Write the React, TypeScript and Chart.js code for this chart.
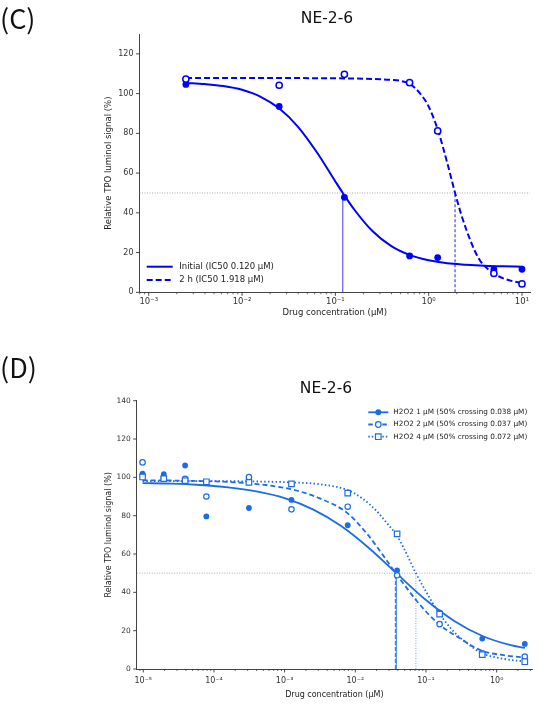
import React, { useEffect, useRef } from "react";
import { Chart, registerables } from "chart.js";

Chart.register(...registerables);

// ---------------- Panel C data ----------------
const cSeriesNames = ["Initial", "2 h"];
const cConc = [0.0025, 0.025, 0.125, 0.625, 1.25, 5, 10];
const cInitial = [104.6, 93.5, 47.8, 18.3, 17.5, 11.5, 11.6];
const c2h = [107.3, 104.2, 109.7, 105.5, 81.2, 9.5, 4.2];
const cIC50 = [0.12, 1.918];
// fitted curves (log10 concentration, signal)
const cFitInitialLog = [-2.6, -2.4, -2.2, -2.0, -1.8, -1.6, -1.4, -1.2, -1.0, -0.92, -0.8, -0.6, -0.4, -0.2, 0, 0.2, 0.4, 0.6, 0.8, 1.0];
const cFitInitialVal = [105.4, 104.8, 103.8, 101.9, 98.4, 92.5, 83.3, 70.6, 55.8, 50.0, 41.8, 30.7, 23.2, 18.7, 16.1, 14.6, 13.9, 13.4, 13.1, 12.9];
const cFit2hLog = [-2.6, -1.5, -1.0, -0.6, -0.4, -0.3, -0.2, -0.1, 0.0, 0.1, 0.2, 0.283, 0.35, 0.4, 0.45, 0.5, 0.55, 0.6, 0.7, 0.8, 0.9, 1.0];
const cFit2hVal = [107.8, 107.8, 107.7, 107.4, 106.9, 106.4, 104.8, 100.5, 93.5, 81.5, 65.0, 50.0, 39.0, 32.0, 25.8, 20.3, 16.0, 13.2, 9.4, 7.0, 5.6, 4.7];
const cXDecades = [-3, -2, -1, 0, 1];
const cXTickLabels = ["10⁻³", "10⁻²", "10⁻¹", "10⁰", "10¹"];
const cYTicks = [0, 20, 40, 60, 80, 100, 120];

// ---------------- Panel D data ----------------
const dSeriesNames = ["H2O2 1 µM", "H2O2 2 µM", "H2O2 4 µM"];
const dConc = [9.77e-6, 1.95e-5, 3.91e-5, 7.81e-5, 3.125e-4, 1.25e-3, 7.81e-3, 0.039, 0.156, 0.625, 2.5];
const dH1 = [101.9, 101.7, 106.2, 79.6, 84.0, 88.2, 75.0, 51.4, 29.5, 15.9, 13.1];
const dH2 = [107.8, 99.6, 99.2, 90.0, 100.1, 83.3, 84.7, 48.9, 23.4, 8.2, 6.5];
const dH4 = [100.2, 99.3, 98.3, 97.7, 97.4, 96.6, 91.8, 70.5, 28.6, 7.5, 3.8];
const dCross = [0.038, 0.037, 0.072];
const dFit1Log = [-5.01, -4.6, -4.2, -3.8, -3.4, -3.0, -2.6, -2.2, -1.8, -1.42, -1.0, -0.6, -0.2, 0.2, 0.4];
const dFit1Val = [97.0, 96.7, 96.0, 94.8, 92.7, 89.2, 83.3, 74.6, 62.9, 50.0, 36.0, 25.1, 17.2, 12.4, 11.0];
const dFit2Log = [-5.01, -4.5, -4.0, -3.5, -3.0, -2.8, -2.5, -2.12, -1.84, -1.56, -1.43, -1.37, -1.13, -0.83, -0.52, -0.21, 0.1, 0.4];
const dFit2Val = [98.5, 98.3, 97.9, 96.9, 94.5, 92.8, 89.0, 81.6, 70.8, 56.9, 50.0, 47.1, 35.5, 23.8, 16.0, 9.5, 7.2, 6.0];
const dFit3Log = [-5.01, -4.0, -3.5, -3.0, -2.5, -2.12, -1.9, -1.7, -1.55, -1.41, -1.3, -1.143, -0.99, -0.83, -0.63, -0.43, -0.21, 0.1, 0.4];
const dFit3Val = [98.0, 98.0, 97.9, 97.5, 96.4, 93.5, 89.0, 82.5, 76.0, 69.5, 62.0, 50.0, 39.8, 30.0, 20.4, 13.8, 8.3, 5.3, 3.9];
const dXDecades = [-5, -4, -3, -2, -1, 0];
const dXTickLabels = ["10⁻⁵", "10⁻⁴", "10⁻³", "10⁻²", "10⁻¹", "10⁰"];
const dYTicks = [0, 20, 40, 60, 80, 100, 120, 140];

const HALF = 50;
const FONT = "'DejaVu Sans', sans-serif";

const pts = (xs: number[], ys: number[]) => xs.map((x, i) => ({ x, y: ys[i] }));
const logPts = (ls: number[], ys: number[]) => ls.map((l, i) => ({ x: Math.pow(10, l), y: ys[i] }));

type LegendItem = {
  text: string;
  color: string;
  lw: number;
  dash: number[];
  marker?: "filled" | "open" | "square";
  r?: number;
};

function makeDecor(cfg: {
  legend: LegendItem[];
  lx: number;
  len: number;
  tx: number;
  ly: number;
  dy: number;
  font: string;
}) {
  return {
    id: "decor",
    afterDraw(chart: any) {
      const ctx = chart.ctx as CanvasRenderingContext2D;
      const { left, right, bottom } = chart.chartArea;
      const xs = chart.scales.x;
      const ys = chart.scales.y;
      ctx.save();
      ctx.strokeStyle = "#333";
      xs.ticks.forEach((t: any) => {
        const p = xs.getPixelForValue(t.value);
        if (p < left - 0.5 || p > right + 0.5) return;
        ctx.lineWidth = t.major ? 0.9 : 0.7;
        const l = t.major ? 3.5 : 2;
        ctx.beginPath();
        ctx.moveTo(p, bottom);
        ctx.lineTo(p, bottom + l);
        ctx.stroke();
      });
      ys.ticks.forEach((t: any) => {
        const p = ys.getPixelForValue(t.value);
        ctx.lineWidth = 0.9;
        ctx.beginPath();
        ctx.moveTo(left, p);
        ctx.lineTo(left - 3.5, p);
        ctx.stroke();
      });
      // legend
      cfg.legend.forEach((it, i) => {
        const y = cfg.ly + i * cfg.dy;
        ctx.save();
        ctx.strokeStyle = it.color;
        ctx.lineWidth = it.lw;
        ctx.setLineDash(it.dash);
        ctx.beginPath();
        ctx.moveTo(cfg.lx, y);
        ctx.lineTo(cfg.lx + cfg.len, y);
        ctx.stroke();
        ctx.setLineDash([]);
        const cx = cfg.lx + cfg.len / 2;
        const r = it.r || 3;
        if (it.marker === "filled") {
          ctx.fillStyle = it.color;
          ctx.beginPath();
          ctx.arc(cx, y, r, 0, Math.PI * 2);
          ctx.fill();
        } else if (it.marker === "open") {
          ctx.fillStyle = "#fff";
          ctx.lineWidth = 1.2;
          ctx.beginPath();
          ctx.arc(cx, y, r, 0, Math.PI * 2);
          ctx.fill();
          ctx.stroke();
        } else if (it.marker === "square") {
          ctx.fillStyle = "#fff";
          ctx.lineWidth = 1.2;
          ctx.beginPath();
          ctx.rect(cx - r, y - r, 2 * r, 2 * r);
          ctx.fill();
          ctx.stroke();
        }
        ctx.fillStyle = "#222";
        ctx.font = cfg.font;
        ctx.textBaseline = "middle";
        ctx.textAlign = "left";
        ctx.fillText(it.text, cfg.tx, y);
        ctx.restore();
      });
      ctx.restore();
    },
  };
}

function logTicks(decades: number[]) {
  return (scale: any) => {
    const out: any[] = [];
    for (let e = decades[0] - 1; e <= decades[decades.length - 1]; e++) {
      for (let m = 1; m <= 9; m++) {
        const v = m * Math.pow(10, e);
        if (v >= scale.min && v <= scale.max) out.push({ value: v, major: m === 1 });
      }
    }
    scale.ticks = out;
  };
}

function logLabel(decades: number[], labels: string[]) {
  return (value: any, index: number, ticks: any[]) => {
    if (!ticks[index] || !ticks[index].major) return "";
    const e = Math.round(Math.log10(Number(value)));
    const k = decades.indexOf(e);
    return k >= 0 ? labels[k] : "";
  };
}

function linTicks(values: number[]) {
  return (scale: any) => {
    scale.ticks = values.map((v) => ({ value: v }));
  };
}

function baseScales(o: {
  xMin: number; xMax: number; yMax: number; decades: number[]; labels: string[]; yTicks: number[];
  fontSize: number; xFontSize: number; yWidth: number; xHeight: number; xPad: number;
}) {
  return {
    x: {
      type: "logarithmic",
      min: o.xMin,
      max: o.xMax,
      afterBuildTicks: logTicks(o.decades),
      afterFit: (s: any) => { s.height = o.xHeight; },
      grid: { display: false, drawTicks: false },
      border: { display: true, color: "#444", width: 1 },
      ticks: {
        autoSkip: false, maxRotation: 0, padding: o.xPad, color: "#333",
        font: { family: FONT, size: o.xFontSize },
        callback: logLabel(o.decades, o.labels),
      },
      title: {
        display: true, text: "Drug concentration (µM)", color: "#222",
        font: { family: FONT, size: o.fontSize + 0.5 }, padding: 0,
      },
    },
    y: {
      type: "linear",
      min: 0,
      max: o.yMax,
      afterBuildTicks: linTicks(o.yTicks),
      afterFit: (s: any) => { s.width = o.yWidth; },
      grid: { display: false, drawTicks: false },
      border: { display: true, color: "#444", width: 1 },
      ticks: { padding: 6, color: "#333", font: { family: FONT, size: o.fontSize } },
      title: {
        display: true, text: "Relative TPO luminol signal (%)", color: "#222",
        font: { family: FONT, size: o.fontSize + 0.5 }, padding: 0,
      },
    },
  };
}

const BLUE_C = "#0000ff";
const BLUE_D = "#1c6ce8";

function PanelC() {
  const ref = useRef<HTMLCanvasElement>(null);
  useEffect(() => {
    if (!ref.current) return;
    const xMin = Math.pow(10, -3.099);
    const xMax = Math.pow(10, 1.086);
    const legend: LegendItem[] = [
      { text: `${cSeriesNames[0]} (IC50 ${cIC50[0].toFixed(3)} µM)`, color: BLUE_C, lw: 2, dash: [] },
      { text: `${cSeriesNames[1]} (IC50 ${cIC50[1].toFixed(3)} µM)`, color: BLUE_C, lw: 2, dash: [6, 3] },
    ];
    const chart = new Chart(ref.current, {
      type: "scatter",
      data: {
        datasets: [
          { data: pts(cConc, c2h), pointRadius: 3.1, pointBorderWidth: 1.5, pointBackgroundColor: "#fff", pointBorderColor: BLUE_C, showLine: false },
          { data: pts(cConc, cInitial), pointRadius: 3.4, pointBorderWidth: 0, pointBackgroundColor: BLUE_C, pointBorderColor: BLUE_C, showLine: false },
          { data: logPts(cFitInitialLog, cFitInitialVal), showLine: true, pointRadius: 0, borderColor: BLUE_C, borderWidth: 2, cubicInterpolationMode: "monotone" },
          { data: logPts(cFit2hLog, cFit2hVal), showLine: true, pointRadius: 0, borderColor: BLUE_C, borderWidth: 2, borderDash: [6, 3], cubicInterpolationMode: "monotone" },
          { data: [{ x: cIC50[0], y: 0 }, { x: cIC50[0], y: HALF }], showLine: true, pointRadius: 0, borderColor: "rgba(40,40,255,0.75)", borderWidth: 1.2 },
          { data: [{ x: cIC50[1], y: 0 }, { x: cIC50[1], y: HALF }], showLine: true, pointRadius: 0, borderColor: "rgba(40,40,255,0.75)", borderWidth: 1.4, borderDash: [3, 2] },
          { data: [{ x: xMin, y: HALF }, { x: xMax, y: HALF }], showLine: true, pointRadius: 0, borderColor: "#aaa", borderWidth: 1, borderDash: [1, 1.5] },
        ],
      } as any,
      options: {
        animation: false,
        responsive: false,
        devicePixelRatio: 1,
        layout: { padding: { left: 104, right: 20, top: 34, bottom: 22 } },
        plugins: { legend: { display: false }, tooltip: { enabled: false } },
        scales: baseScales({
          xMin, xMax, yMax: 130, decades: cXDecades, labels: cXTickLabels, yTicks: cYTicks,
          fontSize: 8, xFontSize: 8.5, yWidth: 35.5, xHeight: 25.7, xPad: 4.5,
        }) as any,
      },
      plugins: [makeDecor({ legend, lx: 146.7, len: 26, tx: 179.3, ly: 266.7, dy: 13.3, font: `8.5px ${FONT}` })],
    });
    return () => chart.destroy();
  }, []);
  return <canvas ref={ref} width={550} height={340} style={{ position: "absolute", left: 0, top: 0, width: 550, height: 340 }} />;
}

function PanelD() {
  const ref = useRef<HTMLCanvasElement>(null);
  useEffect(() => {
    if (!ref.current) return;
    const xMin = Math.pow(10, -5.093);
    const xMax = Math.pow(10, 0.5);
    const legend: LegendItem[] = [
      { text: `${dSeriesNames[0]} (50% crossing ${dCross[0].toFixed(3)} µM)`, color: BLUE_D, lw: 1.8, dash: [], marker: "filled", r: 3 },
      { text: `${dSeriesNames[1]} (50% crossing ${dCross[1].toFixed(3)} µM)`, color: BLUE_D, lw: 1.8, dash: [4.5, 2.5], marker: "open", r: 2.8 },
      { text: `${dSeriesNames[2]} (50% crossing ${dCross[2].toFixed(3)} µM)`, color: BLUE_D, lw: 1.8, dash: [1.5, 2], marker: "square", r: 2.8 },
    ];
    const chart = new Chart(ref.current, {
      type: "scatter",
      data: {
        datasets: [
          { data: pts(dConc, dH4), pointStyle: "rect", pointRadius: 3.9, pointBorderWidth: 1.2, pointBackgroundColor: "#fff", pointBorderColor: BLUE_D, showLine: false },
          { data: pts(dConc, dH2), pointRadius: 2.7, pointBorderWidth: 1.2, pointBackgroundColor: "#fff", pointBorderColor: BLUE_D, showLine: false },
          { data: pts(dConc, dH1), pointRadius: 2.9, pointBorderWidth: 0, pointBackgroundColor: BLUE_D, pointBorderColor: BLUE_D, showLine: false },
          { data: logPts(dFit1Log, dFit1Val), showLine: true, pointRadius: 0, borderColor: BLUE_D, borderWidth: 1.8, cubicInterpolationMode: "monotone" },
          { data: logPts(dFit2Log, dFit2Val), showLine: true, pointRadius: 0, borderColor: BLUE_D, borderWidth: 1.8, borderDash: [5, 3], cubicInterpolationMode: "monotone" },
          { data: logPts(dFit3Log, dFit3Val), showLine: true, pointRadius: 0, borderColor: BLUE_D, borderWidth: 1.8, borderDash: [1.5, 2.3], cubicInterpolationMode: "monotone" },
          { data: [{ x: dCross[0], y: 0 }, { x: dCross[0], y: HALF }], showLine: true, pointRadius: 0, borderColor: "rgba(28,108,232,0.8)", borderWidth: 1.2 },
          { data: [{ x: dCross[1], y: 0 }, { x: dCross[1], y: HALF }], showLine: true, pointRadius: 0, borderColor: "rgba(28,108,232,0.8)", borderWidth: 1.3, borderDash: [4, 2] },
          { data: [{ x: dCross[2], y: 0 }, { x: dCross[2], y: HALF }], showLine: true, pointRadius: 0, borderColor: "rgba(28,108,232,0.6)", borderWidth: 1, borderDash: [1, 1.5] },
          { data: [{ x: xMin, y: HALF }, { x: xMax, y: HALF }], showLine: true, pointRadius: 0, borderColor: "#aaa", borderWidth: 1, borderDash: [1, 1.5] },
        ],
      } as any,
      options: {
        animation: false,
        responsive: false,
        devicePixelRatio: 1,
        layout: { padding: { left: 104, right: 18, top: 60.7, bottom: 4.5 } },
        plugins: { legend: { display: false }, tooltip: { enabled: false } },
        scales: baseScales({
          xMin, xMax, yMax: 140, decades: dXDecades, labels: dXTickLabels, yTicks: dYTicks,
          fontSize: 7.5, xFontSize: 8, yWidth: 32.7, xHeight: 30.5, xPad: 7.5,
        }) as any,
      },
      plugins: [makeDecor({ legend, lx: 368.3, len: 20, tx: 393.3, ly: 72.3, dy: 12.2, font: `7.3px ${FONT}` })],
    });
    return () => chart.destroy();
  }, []);
  return <canvas ref={ref} width={550} height={364} style={{ position: "absolute", left: 0, top: 340, width: 550, height: 364 }} />;
}

const titleStyle: React.CSSProperties = {
  position: "absolute",
  width: 200,
  textAlign: "center",
  fontFamily: FONT,
  fontSize: 15.5,
  lineHeight: "18px",
  color: "#111",
};
const panelStyle: React.CSSProperties = {
  position: "absolute",
  left: 0,
  fontFamily: "'Noto Sans CJK KR', 'Noto Sans', sans-serif",
  fontWeight: 400,
  fontSize: 27,
  lineHeight: "27px",
  color: "#111",
};

export default function App() {
  return (
    <div style={{ position: "absolute", left: 0, top: 0, width: 550, height: 704, background: "#fff", overflow: "hidden" }}>
      <PanelC />
      <PanelD />
      <div style={{ ...panelStyle, top: 4 }}>(C)</div>
      <div style={{ ...panelStyle, top: 353 }}>(D)</div>
      <div style={{ ...titleStyle, left: 327 - 100, top: 8.6 }}>NE-2-6</div>
      <div style={{ ...titleStyle, left: 326 - 100, top: 379.3 }}>NE-2-6</div>
    </div>
  );
}
